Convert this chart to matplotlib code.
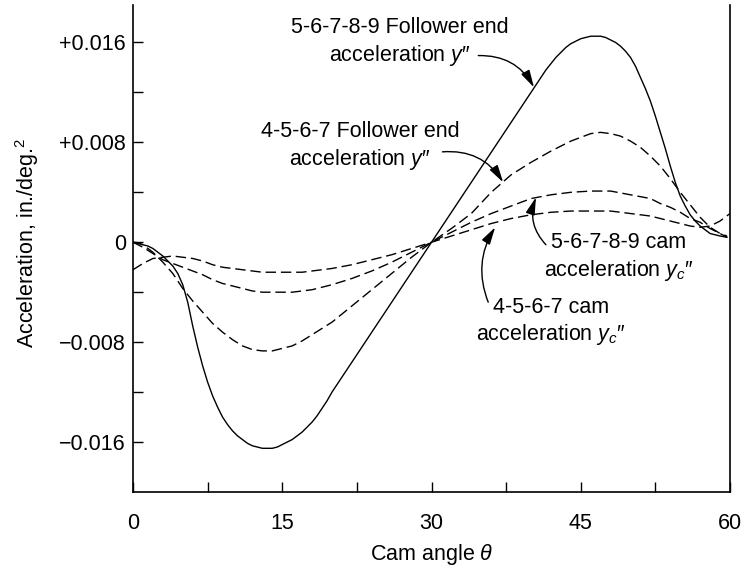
import matplotlib
matplotlib.use("Agg")
import matplotlib.pyplot as plt
from matplotlib.ticker import FixedLocator

plt.rcParams['font.family'] = ['Liberation Sans', 'DejaVu Sans']
plt.rcParams['mathtext.fontset'] = 'custom'
plt.rcParams['mathtext.rm'] = 'Liberation Sans'
plt.rcParams['mathtext.it'] = 'Liberation Sans:italic'
plt.rcParams['mathtext.bf'] = 'Liberation Sans:bold'

# ---------------- data ----------------
# 5-6-7-8-9 follower end acceleration (solid)
theta_f5 = [0, 0.5, 1, 1.5, 2, 2.5, 3, 3.5, 4, 4.5, 5, 5.5, 6, 6.5, 7, 7.5, 8,
            8.5, 9, 9.5, 10, 10.5, 11, 11.5, 12, 12.5, 13, 13.5, 14, 14.5, 15,
            15.5, 16, 16.5, 17, 17.5, 18, 18.5, 19, 19.5, 20, 25, 30, 35, 40,
            40.5, 41, 41.5, 42, 42.5, 43, 43.5, 44, 44.5, 45, 45.5, 46, 46.5,
            47, 47.5, 48, 48.5, 49, 49.5, 50, 50.5, 51, 51.5, 52, 52.5, 53,
            53.5, 54, 54.5, 55, 55.5, 56, 56.5, 57, 57.5, 58, 59, 59.7]
acc_f5 = [0, -0.00003, -0.0002, -0.0003, -0.0005, -0.0008, -0.0011, -0.0015,
          -0.0019, -0.0025, -0.0034, -0.0048, -0.0067, -0.0084, -0.0099,
          -0.0112, -0.0123, -0.0132, -0.0140, -0.0146, -0.0151, -0.0155,
          -0.0158, -0.0161, -0.0163, -0.0164, -0.0165, -0.0165, -0.0165,
          -0.0164, -0.0162, -0.0160, -0.0158, -0.0155, -0.0152, -0.0148,
          -0.0144, -0.0139, -0.0133, -0.0127, -0.0120, -0.0060, 0.0, 0.0060,
          0.0120, 0.0126, 0.0132, 0.0138, 0.0143, 0.0148, 0.0152, 0.0156,
          0.0159, 0.0161, 0.0163, 0.0164, 0.0165, 0.0165, 0.0165, 0.0164,
          0.0162, 0.0160, 0.0157, 0.0153, 0.0148, 0.0141, 0.0132, 0.0123,
          0.0113, 0.0101, 0.0088, 0.0075, 0.0061, 0.0048, 0.0037, 0.0029,
          0.0022, 0.0017, 0.0013, 0.0010, 0.0007, 0.0005, 0.0004]

# 4-5-6-7 follower end acceleration (dashed)
theta_f4 = [0, 1, 2, 3, 4, 5, 6, 7, 8, 9, 10, 11, 12, 13, 14, 15, 16, 17, 18, 19,
            20, 22, 24, 26, 28, 30, 32, 34, 36, 38, 40, 42, 44, 45, 46, 47, 48, 49,
            50, 51, 52, 53, 54, 55, 56, 57, 58, 59, 59.7]
acc_f4 = [0, -0.0002, -0.0008, -0.0016, -0.0025, -0.0037, -0.0047, -0.0056,
          -0.0065, -0.0072, -0.0078, -0.0083, -0.0086, -0.0087, -0.0087, -0.0085,
          -0.0083, -0.0079, -0.0074, -0.0069, -0.0064, -0.0051, -0.0038, -0.0025,
          -0.0012, 0.0, 0.0011, 0.0023, 0.0040, 0.0054, 0.0064, 0.0073, 0.0081,
          0.0084, 0.0087, 0.0088, 0.0087, 0.0085, 0.0081, 0.0076, 0.0069, 0.0061,
          0.0051, 0.0040, 0.0030, 0.0020, 0.0012, 0.0007, 0.0005]

# 5-6-7-8-9 cam acceleration (dashed)
theta_c5 = [0, 1, 2, 3, 4, 5, 6, 7, 8, 9, 10, 11, 12, 13, 14, 15, 16, 17, 18, 19,
            20, 22, 24, 26, 28, 30, 32, 34, 36, 38, 40, 42, 44, 46, 48, 50, 52, 53,
            54, 55, 56, 57, 58, 59, 59.7]
acc_c5 = [0, -0.0004, -0.0009, -0.0014, -0.0017, -0.0020, -0.0023, -0.0026,
          -0.0030, -0.0033, -0.0035, -0.0037, -0.0039, -0.0040, -0.0040, -0.0040,
          -0.0040, -0.0039, -0.0038, -0.0036, -0.0034, -0.0029, -0.0023, -0.0016,
          -0.0008, 0.0, 0.0008, 0.0016, 0.0023, 0.0029, 0.0035, 0.0038, 0.0040,
          0.0041, 0.0041, 0.0038, 0.0035, 0.0031, 0.0028, 0.0024, 0.0019, 0.0016,
          0.0011, 0.0007, 0.0004]

# 4-5-6-7 cam acceleration (dashed)
theta_c4 = [0, 1, 2, 3, 4, 5, 6, 7, 8, 9, 10, 11, 12, 13, 14, 15, 16, 17, 18, 19,
            20, 22, 24, 26, 28, 30, 32, 34, 36, 38, 40, 42, 44, 46, 48, 50, 52, 54,
            55, 56, 57, 58, 59, 60]
acc_c4 = [-0.0022, -0.0017, -0.0013, -0.0012, -0.0011, -0.0012, -0.0013, -0.0015,
          -0.0018, -0.0020, -0.0021, -0.0022, -0.0023, -0.0024, -0.0024, -0.0024,
          -0.0024, -0.0024, -0.0023, -0.0022, -0.0021, -0.0018, -0.0014, -0.0010,
          -0.0005, 0.0, 0.0005, 0.0010, 0.0015, 0.0019, 0.0022, 0.0024, 0.0025,
          0.0025, 0.0025, 0.0023, 0.0021, 0.0017, 0.0015, 0.0013, 0.0012, 0.0013,
          0.0017, 0.0023]

x_major = [0, 15, 30, 45, 60]
x_labels = ["0", "15", "30", "45", "60"]
x_minor = [7.5, 22.5, 37.5, 52.5]
y_major = [-0.016, -0.008, 0, 0.008, 0.016]
y_labels = ["\u22120.016", "\u22120.008", "0", "+0.008", "+0.016"]
y_minor = [-0.012, -0.004, 0.004, 0.012]

FS = 15.5

fig = plt.figure(figsize=(7.46, 5.67), dpi=100)
ax = fig.add_axes([133 / 746, 75 / 567, 597 / 746, 487 / 567])

dash = (0, (7.5, 3.5))
ax.plot(theta_f5, acc_f5, color='black', lw=1.0, solid_joinstyle='round')
ax.plot(theta_f4, acc_f4, color='black', lw=1.0, linestyle=dash)
ax.plot(theta_c5, acc_c5, color='black', lw=1.0, linestyle=dash)
ax.plot(theta_c4, acc_c4, color='black', lw=1.0, linestyle=dash)

ax.set_xlim(0, 60)
ax.set_ylim(-0.020, 0.019)
ax.xaxis.set_major_locator(FixedLocator(x_major))
ax.xaxis.set_minor_locator(FixedLocator(x_minor))
ax.set_xticklabels(x_labels)
ax.yaxis.set_major_locator(FixedLocator(y_major))
ax.yaxis.set_minor_locator(FixedLocator(y_minor))
ax.set_yticklabels(y_labels)

ax.tick_params(which='both', direction='in', length=7.5, width=1.0,
               top=False, right=False, labelsize=FS, color='black')
ax.tick_params(axis='x', which='both', pad=15)
ax.tick_params(axis='y', which='both', pad=5)

ax.spines['top'].set_visible(False)
for s in ('left', 'right', 'bottom'):
    ax.spines[s].set_linewidth(1.2)

ax.set_xlabel(r"Cam angle $\theta$", fontsize=FS, va='center')
ax.xaxis.set_label_coords(0.5, -0.129)
ax.set_ylabel(r"Acceleration, in./deg.$^2$", fontsize=FS, va='center')
ax.yaxis.set_label_coords(-0.178, 0.511)

# annotations
ax.text(26.8, 0.0160, "5-6-7-8-9 Follower end\nacceleration $y$\u2033",
        ha='center', va='center', fontsize=FS, multialignment='center',
        linespacing=1.25)
ax.text(22.8, 0.00768, "4-5-6-7 Follower end\nacceleration $y$\u2033",
        ha='center', va='center', fontsize=FS, multialignment='center',
        linespacing=1.25)
ax.text(48.8, -0.00121, "5-6-7-8-9 cam\nacceleration $y_c$\u2033",
        ha='center', va='center', fontsize=FS, multialignment='center',
        linespacing=1.25)
ax.text(42.0, -0.00639, "4-5-6-7 cam\nacceleration $y_c$\u2033",
        ha='center', va='center', fontsize=FS, multialignment='center',
        linespacing=1.25)

arrow_kw = dict(arrowstyle="-|>,head_length=0.75,head_width=0.2",
                color='black', lw=1.0, shrinkA=0, shrinkB=0, mutation_scale=14)
ax.annotate("", xy=(40.3, 0.0124), xytext=(34.7, 0.01495),
            arrowprops=dict(connectionstyle="arc3,rad=-0.3", **arrow_kw))
ax.annotate("", xy=(37.2, 0.0048), xytext=(31.1, 0.00724),
            arrowprops=dict(connectionstyle="arc3,rad=-0.3", **arrow_kw))
ax.annotate("", xy=(40.5, 0.0036), xytext=(41.5, -0.0002),
            arrowprops=dict(connectionstyle="arc3,rad=-0.3", **arrow_kw))
ax.annotate("", xy=(36.4, 0.0012), xytext=(35.7, -0.0048),
            arrowprops=dict(connectionstyle="arc3,rad=-0.25", **arrow_kw))

fig.savefig("out.png", dpi=100)
